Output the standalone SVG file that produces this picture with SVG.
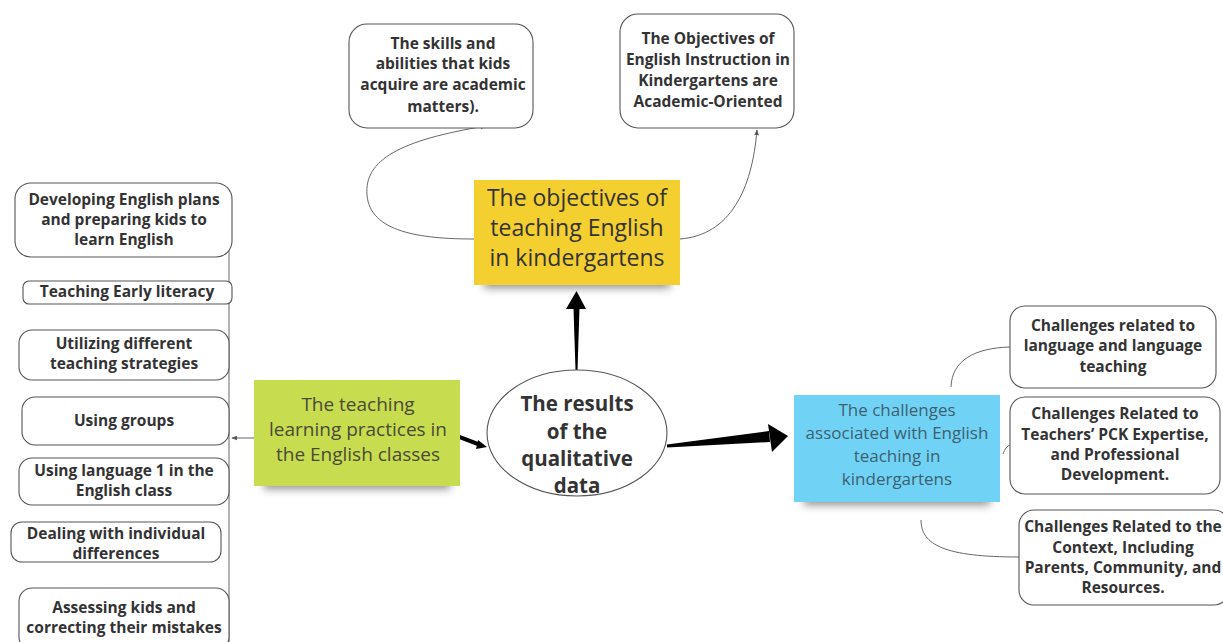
<svg xmlns="http://www.w3.org/2000/svg" width="1223" height="642" viewBox="0 0 1223 642">
<defs>
<style>
.box{fill:#fff;stroke:#555;stroke-width:1.1}
.t{font-family:"Open Sans","Noto Sans","Liberation Sans",sans-serif;font-weight:700;font-size:15.5px;fill:#333;text-anchor:middle}
.n{font-family:"Open Sans","Noto Sans","Liberation Sans",sans-serif;font-weight:400;text-anchor:middle}
.ln{fill:none;stroke:#666;stroke-width:1}
.sh{fill:#333;opacity:0.55;filter:url(#blur)}
</style>
<filter id="blur" x="-20%" y="-100%" width="140%" height="300%"><feGaussianBlur stdDeviation="4"/></filter>
<marker id="sa" viewBox="0 0 10 10" refX="9" refY="5" markerWidth="6" markerHeight="6" orient="auto"><path d="M0,1 L10,5 L0,9 z" fill="#555"/></marker>
</defs>
<rect width="1223" height="642" fill="#fff"/>

<g id="connectors">
<line x1="229" y1="250" x2="229" y2="642" class="ln"/>
<path d="M254,438 L232,438" class="ln" marker-end="url(#sa)"/>
<path d="M474,239 C420,239 370,232 367,195 C364,160 400,140 486,126" class="ln" marker-end="url(#sa)"/>
<path d="M680,239 C730,235 752,190 757,130" class="ln" marker-end="url(#sa)"/>
<path d="M951,387 C952,360 975,348 1010,347" class="ln"/>
<path d="M1003,454 C1005,449 1007,446 1010,445" class="ln"/>
<path d="M921,520 C921,545 945,557 1019,557" class="ln"/>
<polygon points="575.5,370 577.5,370 579.5,308 573.5,308" fill="#000"/>
<polygon points="566,309 586,309 576.5,291" fill="#000"/>
<polygon points="667,444.5 667,447.5 770,442 769,431" fill="#000"/>
<polygon points="768,424 772,452 788,436" fill="#000"/>
<polygon points="460,435 459,439 480,447 481,443" fill="#000"/>
<polygon points="478,440 476,449 487,447" fill="#000"/>
</g>

<g id="center">
<ellipse cx="577" cy="433" rx="90" ry="63" fill="#fff" stroke="#555" stroke-width="1.1"/>
<text class="t" style="font-size:20.5px" fill="#222" x="577" y="411">The results</text>
<text class="t" style="font-size:20.5px" x="577" y="439">of the</text>
<text class="t" style="font-size:20.5px" x="577" y="466">qualitative</text>
<text class="t" style="font-size:20.5px" x="577" y="493">data</text>
</g>

<g id="objectives">
<rect class="sh" x="484" y="278" width="186" height="10"/>
<rect x="474" y="180" width="206" height="105" fill="#f4cf30"/>
<text class="n" style="font-size:23px" fill="#333" x="577" y="206">The objectives of</text>
<text class="n" style="font-size:23px" fill="#333" x="577" y="236">teaching English</text>
<text class="n" style="font-size:23px" fill="#333" x="577" y="266">in kindergartens</text>
</g>

<g id="practices">
<rect class="sh" x="264" y="479" width="186" height="10"/>
<rect x="254" y="380" width="206" height="106" fill="#c7dc4e"/>
<text class="n" style="font-size:19px" fill="#4a4a3a" x="358" y="411">The teaching</text>
<text class="n" style="font-size:19px" fill="#4a4a3a" x="358" y="436">learning practices in</text>
<text class="n" style="font-size:19px" fill="#4a4a3a" x="358" y="461">the English classes</text>
</g>

<g id="challenges">
<rect class="sh" x="804" y="495" width="186" height="10"/>
<rect x="794" y="395" width="206" height="107" fill="#70d3f5"/>
<text class="n" style="font-size:17px" fill="#3d5f70" x="897" y="416">The challenges</text>
<text class="n" style="font-size:17px" fill="#3d5f70" x="897" y="439">associated with English</text>
<text class="n" style="font-size:17px" fill="#3d5f70" x="897" y="462">teaching in</text>
<text class="n" style="font-size:17px" fill="#3d5f70" x="897" y="485">kindergartens</text>
</g>

<g id="skills">
<rect class="box" x="349" y="24" width="184" height="104" rx="18"/>
<text class="t" x="443" y="49">The skills and</text>
<text class="t" x="443" y="69">abilities that kids</text>
<text class="t" x="443" y="90">acquire are academic</text>
<text class="t" x="443" y="112">matters).</text>
</g>

<g id="academic">
<rect class="box" x="620" y="14" width="174" height="114" rx="18"/>
<text class="t" x="708" y="44">The Objectives of</text>
<text class="t" x="708" y="65">English Instruction in</text>
<text class="t" x="708" y="86">Kindergartens are</text>
<text class="t" x="708" y="107">Academic-Oriented</text>
</g>

<g id="l1">
<rect class="box" x="15" y="183" width="217" height="74" rx="16"/>
<text class="t" x="124" y="205">Developing English plans</text>
<text class="t" x="124" y="225">and preparing kids to</text>
<text class="t" x="124" y="245">learn English</text>
</g>
<g id="l2">
<rect class="box" x="23" y="281" width="209" height="23" rx="6"/>
<text class="t" x="127" y="297">Teaching Early literacy</text>
</g>
<g id="l3">
<rect class="box" x="19" y="330" width="210" height="50" rx="13"/>
<text class="t" x="124" y="349">Utilizing different</text>
<text class="t" x="124" y="369">teaching strategies</text>
</g>
<g id="l4">
<rect class="box" x="22" y="397" width="207" height="48" rx="13"/>
<text class="t" x="124" y="426">Using groups</text>
</g>
<g id="l5">
<rect class="box" x="19" y="458" width="210" height="47" rx="13"/>
<text class="t" x="124" y="476">Using language 1 in the</text>
<text class="t" x="124" y="496">English class</text>
</g>
<g id="l6">
<rect class="box" x="11" y="522" width="210" height="40" rx="11"/>
<text class="t" x="116" y="539">Dealing with individual</text>
<text class="t" x="116" y="559">differences</text>
</g>
<g id="l7">
<rect class="box" x="19" y="588" width="210" height="62" rx="13"/>
<text class="t" x="124" y="613">Assessing kids and</text>
<text class="t" x="124" y="633">correcting their mistakes</text>
</g>

<g id="r1">
<rect class="box" x="1010" y="306" width="206" height="82" rx="15"/>
<text class="t" x="1113" y="331">Challenges related to</text>
<text class="t" x="1113" y="351">language and language</text>
<text class="t" x="1113" y="372">teaching</text>
</g>
<g id="r2">
<rect class="box" x="1010" y="397" width="210" height="97" rx="15"/>
<text class="t" x="1115" y="419">Challenges Related to</text>
<text class="t" x="1115" y="440">Teachers’ PCK Expertise,</text>
<text class="t" x="1115" y="460">and Professional</text>
<text class="t" x="1115" y="480">Development.</text>
</g>
<g id="r3">
<rect class="box" x="1019" y="510" width="210" height="95" rx="15"/>
<text class="t" x="1123" y="532">Challenges Related to the</text>
<text class="t" x="1123" y="553">Context, Including</text>
<text class="t" x="1123" y="573">Parents, Community, and</text>
<text class="t" x="1123" y="593">Resources.</text>
</g>
</svg>
